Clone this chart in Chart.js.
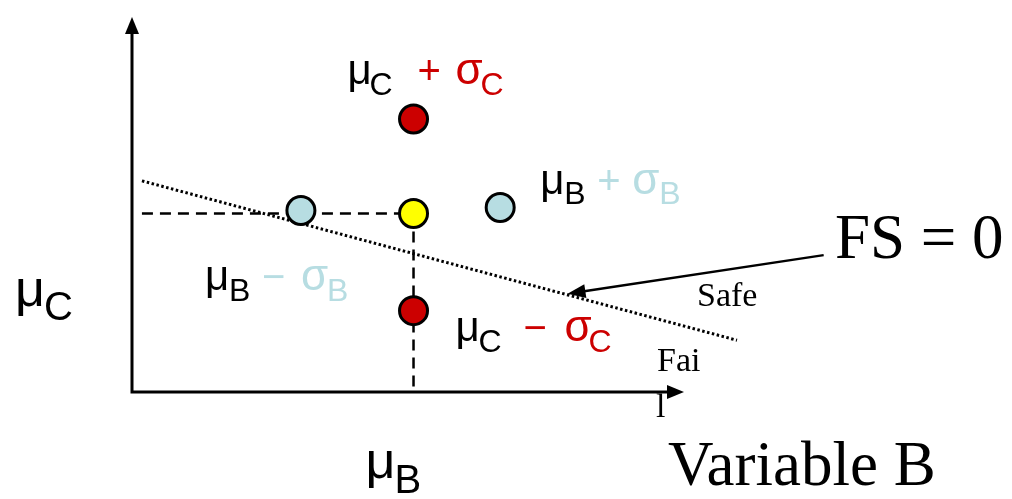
<!DOCTYPE html>
<html>
<head>
<meta charset="utf-8">
<script src="https://cdn.jsdelivr.net/npm/chart.js@4"></script>
<style>
  html, body { margin: 0; padding: 0; background: #fff; }
  #wrap { width: 1012px; height: 499px; }
</style>
</head>
<body>
<div id="wrap"><canvas id="myChart" width="1012" height="499"></canvas></div>
<script>
// Các điểm: trên, giữa (trung bình), dưới, trái, phải
const pointNames = ["μC + σC", "μB, μC", "μC − σC", "μB − σB", "μB + σB"];
const pointX = [51, 51, 51, 30.6, 66.7];
const pointY = [72.8, 47.6, 21.7, 48.4, 49.2];

// Đường giới hạn FS = 0
const limitX = [1.8, 109.6];
const limitY = [56.3, 13.8];

// Mũi tên chỉ vào đường FS = 0 (từ nhãn tới đường)
const pointerX = [125.3, 78.9];
const pointerY = [36.5, 26.2];

const RED = "#cc0000";
const BLUE = "#b7dde2";
const SANS = "'Liberation Sans', Arial, sans-serif";
const SERIF = "'Liberation Serif', 'Times New Roman', serif";

// Vẽ chữ có chỉ số dưới
function drawRich(ctx, x, y, pieces) {
    pieces.forEach(p => {
        ctx.font = p.size + "px " + SANS;
        ctx.fillStyle = p.color;
        ctx.fillText(p.t, x + p.dx, y + (p.dy || 0));
    });
}

function arrowHead(ctx, x1, y1, x2, y2, len, half) {
    const a = Math.atan2(y2 - y1, x2 - x1);
    ctx.beginPath();
    ctx.moveTo(x2, y2);
    ctx.lineTo(x2 - len * Math.cos(a) + half * Math.sin(a), y2 - len * Math.sin(a) - half * Math.cos(a));
    ctx.lineTo(x2 - len * Math.cos(a) - half * Math.sin(a), y2 - len * Math.sin(a) + half * Math.cos(a));
    ctx.closePath();
    ctx.fill();
}

const decorPlugin = {
    id: "decor",
    beforeDatasetsDraw(chart) {
        const ctx = chart.ctx;
        const xs = chart.scales.x, ys = chart.scales.y;
        const x0 = xs.getPixelForValue(0), y0 = ys.getPixelForValue(0);
        const xEnd = xs.getPixelForValue(100), yEnd = ys.getPixelForValue(100);
        ctx.save();
        ctx.strokeStyle = "#000";
        ctx.fillStyle = "#000";
        ctx.lineWidth = 3;
        ctx.beginPath();
        ctx.moveTo(x0, y0 + 1.5);
        ctx.lineTo(x0, yEnd + 10);
        ctx.moveTo(x0 - 1.5, y0);
        ctx.lineTo(xEnd - 10, y0);
        ctx.stroke();
        arrowHead(ctx, x0, y0, x0, yEnd, 17, 7);
        arrowHead(ctx, x0, y0, xEnd, y0, 17, 7);
        ctx.restore();
    },
    afterDatasetsDraw(chart) {
        const ctx = chart.ctx;
        const xs = chart.scales.x, ys = chart.scales.y;
        const px = i => xs.getPixelForValue(pointX[i]);
        const py = i => ys.getPixelForValue(pointY[i]);
        ctx.save();
        ctx.textBaseline = "alphabetic";

        // mũi tên FS = 0
        const ax1 = xs.getPixelForValue(pointerX[0]), ay1 = ys.getPixelForValue(pointerY[0]);
        const ax2 = xs.getPixelForValue(pointerX[1]), ay2 = ys.getPixelForValue(pointerY[1]);
        ctx.strokeStyle = "#000";
        ctx.fillStyle = "#000";
        ctx.lineWidth = 2.5;
        ctx.beginPath();
        ctx.moveTo(ax1, ay1);
        ctx.lineTo(ax2 + 10, ay2 - 1.5);
        ctx.stroke();
        arrowHead(ctx, ax1, ay1, ax2, ay2, 18, 7);

        // nhãn các điểm
        drawRich(ctx, px(0) - 66, py(0) - 35, [
            { t: "μ", size: 42, color: "#000", dx: 0 },
            { t: "C", size: 32, color: "#000", dx: 22, dy: 11 },
            { t: "+", size: 40, color: RED, dx: 70 },
            { t: "σ", size: 44, color: RED, dx: 108 },
            { t: "C", size: 32, color: RED, dx: 133, dy: 11 }
        ]);
        drawRich(ctx, px(4) + 40, py(4) - 14, [
            { t: "μ", size: 42, color: "#000", dx: 0 },
            { t: "B", size: 32, color: "#000", dx: 24, dy: 10 },
            { t: "+", size: 40, color: BLUE, dx: 57 },
            { t: "σ", size: 44, color: BLUE, dx: 92 },
            { t: "B", size: 32, color: BLUE, dx: 119, dy: 10 }
        ]);
        drawRich(ctx, px(3) - 96, py(3) + 79, [
            { t: "μ", size: 42, color: "#000", dx: 0 },
            { t: "B", size: 32, color: "#000", dx: 24, dy: 11 },
            { t: "−", size: 40, color: BLUE, dx: 57 },
            { t: "σ", size: 44, color: BLUE, dx: 96 },
            { t: "B", size: 32, color: BLUE, dx: 122, dy: 11 }
        ]);
        drawRich(ctx, px(2) + 42, py(2) + 30, [
            { t: "μ", size: 42, color: "#000", dx: 0 },
            { t: "C", size: 32, color: "#000", dx: 23, dy: 11 },
            { t: "−", size: 40, color: RED, dx: 68 },
            { t: "σ", size: 44, color: RED, dx: 109 },
            { t: "C", size: 32, color: RED, dx: 133, dy: 11 }
        ]);

        // tên trục
        drawRich(ctx, 15, 306, [
            { t: "μ", size: 52, color: "#000", dx: 0 },
            { t: "C", size: 40, color: "#000", dx: 29, dy: 14 }
        ]);
        drawRich(ctx, px(1) - 48, 478, [
            { t: "μ", size: 52, color: "#000", dx: 0 },
            { t: "B", size: 40, color: "#000", dx: 29, dy: 15 }
        ]);

        ctx.fillStyle = "#000";
        ctx.font = "63px " + SERIF;
        ctx.fillText("FS = 0", 835, 258);
        ctx.fillText("Variable B", 668, 485);
        ctx.font = "34px " + SERIF;
        ctx.fillText("Safe", 697, 306);
        ctx.fillText("Fai", 657, 371);
        ctx.fillText("l", 656, 417);
        ctx.restore();
    }
};

let chartInstance = new Chart(document.getElementById("myChart").getContext("2d"), {
    type: "scatter",
    data: {
        datasets: [
            {
                label: "Điểm",
                data: pointX.map((x, i) => ({ x: x, y: pointY[i] })),
                backgroundColor: [RED, "#ffff00", RED, BLUE, BLUE],
                borderColor: "#000",
                borderWidth: 3,
                pointRadius: 14,
                pointHoverRadius: 14
            },
            {
                label: "FS = 0",
                type: "line",
                data: limitX.map((x, i) => ({ x: x, y: limitY[i] })),
                borderColor: "#000",
                borderWidth: 3,
                borderDash: [2.5, 2.5],
                pointRadius: 0,
                clip: false
            },
            {
                label: "ngang",
                type: "line",
                data: [{ x: limitX[0], y: pointY[1] }, { x: pointX[1], y: pointY[1] }],
                borderColor: "#000",
                borderWidth: 2.5,
                borderDash: [11, 7],
                pointRadius: 0
            },
            {
                label: "dọc",
                type: "line",
                data: [{ x: pointX[1], y: pointY[1] }, { x: pointX[1], y: 0 }],
                borderColor: "#000",
                borderWidth: 2.5,
                borderDash: [11, 7],
                pointRadius: 0
            }
        ]
    },
    options: {
        responsive: false,
        animation: false,
        layout: { padding: { left: 132, right: 328, top: 14, bottom: 107 } },
        scales: {
            x: { type: "linear", min: 0, max: 100, display: false },
            y: { type: "linear", min: 0, max: 100, display: false }
        },
        plugins: { legend: { display: false }, tooltip: { enabled: false } }
    },
    plugins: [decorPlugin]
});
</script>
</body>
</html>
